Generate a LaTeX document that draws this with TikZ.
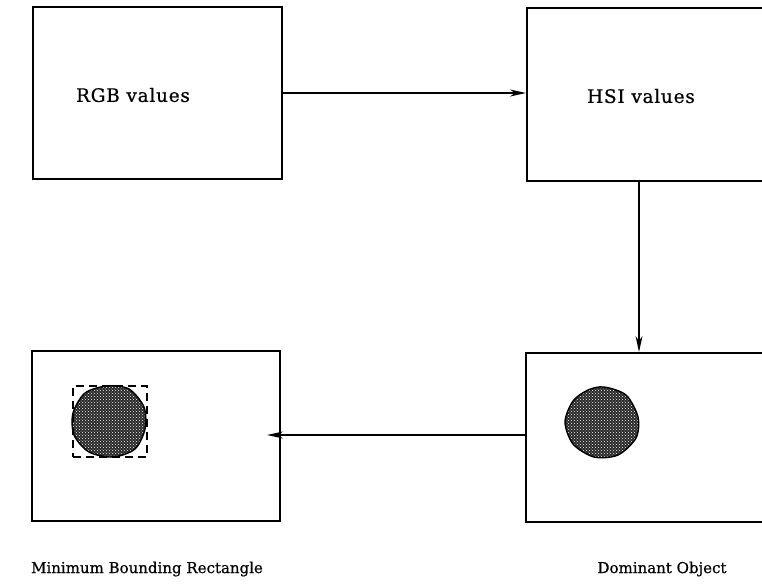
\documentclass[tikz,border=0pt]{standalone}
\usepackage{fontspec}
\setmainfont{DejaVu Serif}
\usetikzlibrary{patterns,arrows.meta,calc}
\tikzset{
  box/.style={draw,line width=2pt,anchor=north west,inner sep=0pt},
  lbl/.style={font=\fontsize{18.5}{21}\selectfont\addfontfeatures{LetterSpace=4,FakeBold=0.6},inner sep=0pt},
  captxt/.style={font=\fontsize{15}{18}\selectfont\addfontfeatures{FakeBold=0.6},inner sep=0pt},
  arr/.style={line width=1.6pt,-{Stealth[length=16pt,width=7pt,inset=5pt]}},
  blob/.style={draw,line width=1.4pt,pattern=crosshatch dots,pattern color=white,preaction={fill=black!85}},
  mbr/.style={draw,line width=2pt,dash pattern=on 8pt off 5pt}
}
\begin{document}
\begin{tikzpicture}[x=1pt,y=-1pt]
\useasboundingbox (0,0) rectangle (762,584);
\node[box,minimum width=249pt,minimum height=172pt] (b1) at (32,6) {};
\node[box,minimum width=245pt,minimum height=173pt] (b2) at (526,7) {};
\node[box,minimum width=245pt,minimum height=169pt] (b3) at (525,352) {};
\node[box,minimum width=248pt,minimum height=170pt] (b4) at (31,350) {};
\node[lbl] (t1) at (133,95) {RGB values};
\node[lbl] (t2) at (641,96) {HSI values};
\node[captxt] (t3) at (147,569) {Minimum Bounding Rectangle};
\node[captxt] (t4) at (662,569) {Dominant Object};
\draw[arr] (b1.east) -- (b1.east -| b2.west);
\draw[arr] ($(b2.south west)+(113,0)$) -- ($(b3.north west)+(114,0)$);
\draw[arr,shorten >=-14pt] ($(b3.north west)+(0,83)$) -- ($(b4.north east)+(0,85)$);
\draw[blob,shift={(602,422)}] plot[smooth cycle] coordinates {(2,-35)(24,-27)(36,-5)(34,16)(16,33)(-8,35)(-29,22)(-37,0)(-29,-21)(-14,-32)};
\draw[blob,shift={(109,421)}] plot[smooth cycle] coordinates {(-2,-35)(20,-32)(35,-14)(36,8)(26,28)(4,36)(-20,31)(-35,14)(-36,-8)(-24,-28)};
\node[mbr,minimum width=74pt,minimum height=71pt,anchor=north west,inner sep=0pt] (r) at (72,385) {};
\end{tikzpicture}
\end{document}
